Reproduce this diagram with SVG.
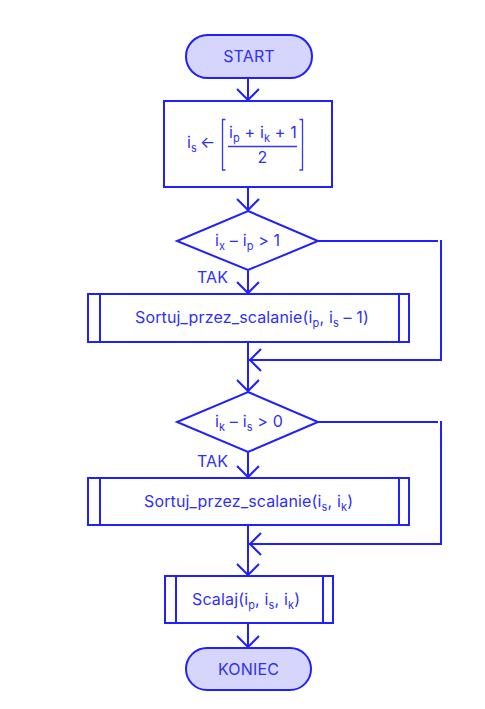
<svg xmlns="http://www.w3.org/2000/svg" width="485" height="709" viewBox="0 0 485 709">
  <style>
    .shape { fill: #ffffff; stroke: #1f1fff; stroke-width: 2; }
    .term { fill: #d6d6fc; stroke: #1f1fff; stroke-width: 2; }
    .edge { fill: none; stroke: #1f1fff; stroke-width: 2; }
    .head { fill: none; stroke: #1f1fff; stroke-width: 2; stroke-linejoin: miter; }
    .thin { fill: none; stroke: #3535ff; stroke-width: 1.3; }
    text { font-family: Inter, "Liberation Sans", sans-serif; font-size: 16px; fill: #3030f5; letter-spacing: 0.15px; }
    .mid { text-anchor: middle; }
    .sub { font-size: 11px; }
  </style>
  <rect width="485" height="709" fill="#ffffff"/>

  <g id="connectors">
    <line class="edge" x1="248" y1="78" x2="248" y2="101"/>
    <polyline class="head" points="237,89 248,100 259,89"/>
    <line class="edge" x1="248" y1="187" x2="248" y2="211"/>
    <polyline class="head" points="237,199 248,210 259,199"/>
    <line class="edge" x1="248" y1="270" x2="248" y2="294"/>
    <polyline class="head" points="237,282 248,293 259,282"/>
    <line class="edge" x1="248" y1="342" x2="248" y2="392"/>
    <line class="edge" x1="318" y1="241" x2="438" y2="241"/>
    <line class="edge" x1="441" y1="240" x2="441" y2="361"/>
    <line class="edge" x1="441" y1="360" x2="248" y2="360"/>
    <polyline class="head" points="261,349 250,360 261,371"/>
    <polyline class="head" points="237,380 248,391 259,380"/>
    <line class="edge" x1="248" y1="452" x2="248" y2="478"/>
    <polyline class="head" points="237,466 248,477 259,466"/>
    <line class="edge" x1="248" y1="525" x2="248" y2="576"/>
    <line class="edge" x1="318" y1="422" x2="438" y2="422"/>
    <line class="edge" x1="441" y1="421" x2="441" y2="545"/>
    <line class="edge" x1="441" y1="544" x2="248" y2="544"/>
    <polyline class="head" points="261,533 250,544 261,555"/>
    <polyline class="head" points="237,564 248,575 259,564"/>
    <line class="edge" x1="248" y1="623" x2="248" y2="648"/>
    <polyline class="head" points="237,636 248,647 259,636"/>
    <text x="197" y="283">TAK</text>
    <text x="197" y="467">TAK</text>
  </g>

  <g id="start">
    <rect class="term" x="186" y="35" width="126" height="43" rx="21.5"/>
    <text class="mid" x="249" y="62">START</text>
  </g>

  <g id="split-index">
    <rect class="shape" x="164" y="101" width="168" height="86"/>
    <text x="187" y="148">i<tspan class="sub" dy="4">s</tspan><tspan dy="-4" dx="3">←</tspan></text>
    <path class="thin" d="M225.5,119.5 H222.5 V170 H225.5 M299.5,119.5 H302.5 V170 H299.5"/>
    <line class="thin" x1="228" y1="146.5" x2="297" y2="146.5"/>
    <text x="229" y="138">i<tspan class="sub" dy="4">p</tspan><tspan dy="-4"> + i</tspan><tspan class="sub" dy="4">k</tspan><tspan dy="-4"> + 1</tspan></text>
    <text class="mid" x="262.5" y="163">2</text>
  </g>

  <g id="check-left">
    <polygon class="shape" points="248,211 318,241 248,270 177,241"/>
    <text x="215" y="246">i<tspan class="sub" dy="4">x</tspan><tspan dy="-4"> – i</tspan><tspan class="sub" dy="4">p</tspan><tspan dy="-4"> &gt; 1</tspan></text>
  </g>

  <g id="sort-left">
    <rect class="shape" x="88" y="294" width="321" height="48"/>
    <line class="edge" x1="100" y1="294" x2="100" y2="342"/>
    <line class="edge" x1="399" y1="294" x2="399" y2="342"/>
    <text x="135" y="323">Sortuj_przez_scalanie(i<tspan class="sub" dy="4">p</tspan><tspan dy="-4">, i</tspan><tspan class="sub" dy="4">s</tspan><tspan dy="-4"> – 1)</tspan></text>
  </g>

  <g id="check-right">
    <polygon class="shape" points="248,392 318,422 248,452 177,422"/>
    <text x="215" y="427">i<tspan class="sub" dy="4">k</tspan><tspan dy="-4"> – i</tspan><tspan class="sub" dy="4">s</tspan><tspan dy="-4"> &gt; 0</tspan></text>
  </g>

  <g id="sort-right">
    <rect class="shape" x="88" y="478" width="321" height="47"/>
    <line class="edge" x1="100" y1="478" x2="100" y2="525"/>
    <line class="edge" x1="399" y1="478" x2="399" y2="525"/>
    <text x="144" y="507">Sortuj_przez_scalanie(i<tspan class="sub" dy="4">s</tspan><tspan dy="-4">, i</tspan><tspan class="sub" dy="4">k</tspan><tspan dy="-4">)</tspan></text>
  </g>

  <g id="merge">
    <rect class="shape" x="165" y="576" width="168" height="47"/>
    <line class="edge" x1="176" y1="576" x2="176" y2="623"/>
    <line class="edge" x1="323" y1="576" x2="323" y2="623"/>
    <text x="192" y="605">Scalaj(i<tspan class="sub" dy="4">p</tspan><tspan dy="-4">, i</tspan><tspan class="sub" dy="4">s</tspan><tspan dy="-4">, i</tspan><tspan class="sub" dy="4">k</tspan><tspan dy="-4">)</tspan></text>
  </g>

  <g id="end">
    <rect class="term" x="186" y="648" width="125" height="42" rx="21"/>
    <text class="mid" x="248.5" y="675">KONIEC</text>
  </g>
</svg>
